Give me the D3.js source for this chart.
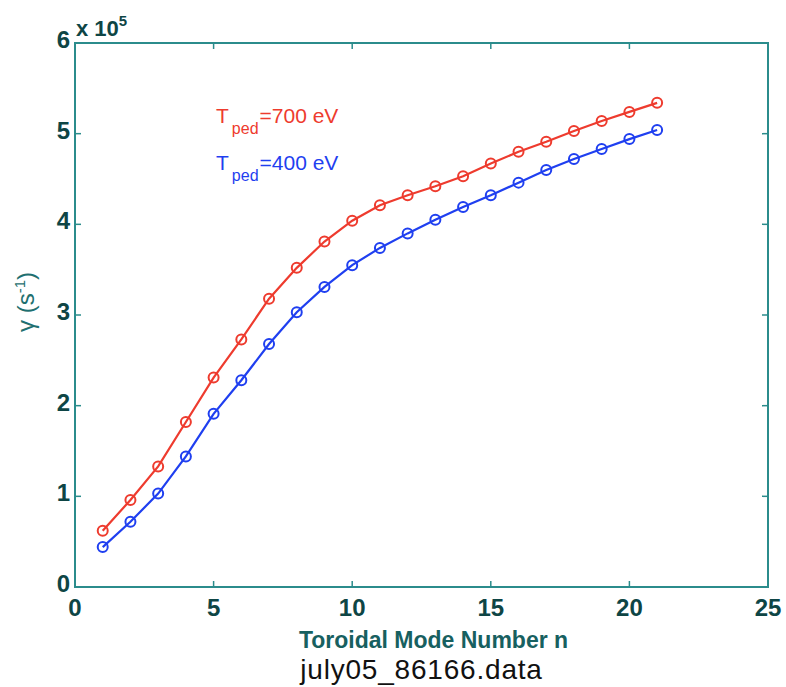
<!DOCTYPE html>
<html>
<head>
<meta charset="utf-8">
<script src="https://cdn.jsdelivr.net/npm/d3@7"></script>
<style>
  body { margin: 0; background: #fff; }
  svg { display: block; }
  .tick-label { font-family: "Liberation Sans Narrow", "Liberation Sans", Arial, sans-serif; font-weight: bold; fill: #0e4545; }
</style>
</head>
<body>
<svg id="chart"></svg>
<script>
const width = 786;
const height = 687;
const margin = {top: 43, right: 18, bottom: 100, left: 75};

// Toroidal mode numbers
const modeNumbers = [1, 2, 3, 4, 5, 6, 7, 8, 9, 10, 11, 12, 13, 14, 15, 16, 17, 18, 19, 20, 21];

// growth rate in units of 1e5 s^-1
const gamma700 = [0.62, 0.96, 1.33, 1.82, 2.31, 2.73, 3.18, 3.52, 3.81, 4.04, 4.21, 4.32, 4.42, 4.53, 4.67, 4.80, 4.91, 5.03, 5.14, 5.24, 5.34];
const gamma400 = [0.44, 0.72, 1.03, 1.44, 1.91, 2.28, 2.68, 3.03, 3.31, 3.55, 3.74, 3.90, 4.05, 4.19, 4.32, 4.46, 4.60, 4.72, 4.83, 4.94, 5.04];

const xTicks = [0, 5, 10, 15, 20, 25];
const yTicks = [0, 1, 2, 3, 4, 5, 6];

const series = [
    {label: "=700 eV", values: gamma700, color: "#ee3b2e", legendY: 123},
    {label: "=400 eV", values: gamma400, color: "#1f3ff0", legendY: 170}
];

const axisColor = "#2b8c8c";

const svg = d3.select("#chart")
    .attr("width", width)
    .attr("height", height);

const innerW = width - margin.left - margin.right;
const innerH = height - margin.top - margin.bottom;

const x = d3.scaleLinear().domain([0, 25]).range([0, innerW]);
const y = d3.scaleLinear().domain([0, 6]).range([innerH, 0]);

const g = svg.append("g")
    .attr("transform", `translate(${margin.left},${margin.top})`);

// box
g.append("rect")
    .attr("width", innerW)
    .attr("height", innerH)
    .attr("fill", "none")
    .attr("stroke", axisColor)
    .attr("stroke-width", 2);

// inward ticks on all four sides
const tickLen = 6;
g.selectAll(".xt-bottom")
    .data(xTicks.slice(1, -1))
    .enter().append("line")
    .attr("x1", d => x(d)).attr("x2", d => x(d))
    .attr("y1", innerH).attr("y2", innerH - tickLen)
    .attr("stroke", axisColor).attr("stroke-width", 1.5);

g.selectAll(".xt-top")
    .data(xTicks.slice(1, -1))
    .enter().append("line")
    .attr("x1", d => x(d)).attr("x2", d => x(d))
    .attr("y1", 0).attr("y2", tickLen)
    .attr("stroke", axisColor).attr("stroke-width", 1.5);

g.selectAll(".yt-left")
    .data(yTicks.slice(1, -1))
    .enter().append("line")
    .attr("x1", 0).attr("x2", tickLen)
    .attr("y1", d => y(d)).attr("y2", d => y(d))
    .attr("stroke", axisColor).attr("stroke-width", 1.5);

g.selectAll(".yt-right")
    .data(yTicks.slice(1, -1))
    .enter().append("line")
    .attr("x1", innerW).attr("x2", innerW - tickLen)
    .attr("y1", d => y(d)).attr("y2", d => y(d))
    .attr("stroke", axisColor).attr("stroke-width", 1.5);

// tick labels
g.selectAll(".xlab")
    .data(xTicks)
    .enter().append("text")
    .attr("class", "tick-label")
    .attr("x", d => x(d))
    .attr("y", innerH + 29)
    .attr("text-anchor", "middle")
    .style("font-size", "24px")
    .text(d => d);

g.selectAll(".ylab")
    .data(yTicks)
    .enter().append("text")
    .attr("class", "tick-label")
    .attr("x", -5)
    .attr("y", d => y(d) + 5)
    .attr("text-anchor", "end")
    .style("font-size", "24px")
    .text(d => d);

// exponent
const expo = g.append("text")
    .attr("class", "tick-label")
    .attr("x", 1)
    .attr("y", -7)
    .style("font-size", "22px");
expo.append("tspan").text("x 10");
expo.append("tspan").attr("dy", -10).style("font-size", "15px").text("5");

// lines and markers
const line = d3.line()
    .x((d, i) => x(modeNumbers[i]))
    .y(d => y(d));

series.forEach(s => {
    g.append("path")
        .datum(s.values)
        .attr("fill", "none")
        .attr("stroke", s.color)
        .attr("stroke-width", 2.2)
        .attr("d", line);

    g.selectAll(null)
        .data(s.values)
        .enter().append("circle")
        .attr("cx", (d, i) => x(modeNumbers[i]))
        .attr("cy", d => y(d))
        .attr("r", 5)
        .attr("fill", "none")
        .attr("stroke", s.color)
        .attr("stroke-width", 2);

    // legend text
    const t = svg.append("text")
        .attr("x", 216)
        .attr("y", s.legendY)
        .attr("fill", s.color)
        .style("font-family", "\"Liberation Sans\", Arial, sans-serif")
        .style("font-size", "21px");
    t.append("tspan").text("T");
    t.append("tspan").attr("dx", 3).attr("dy", 11).style("font-size", "16px").text("ped");
    t.append("tspan").attr("dx", 1).attr("dy", -11).text(s.label);
});

// y axis label
svg.append("text")
    .attr("transform", "translate(34,302) rotate(-90)")
    .attr("text-anchor", "middle")
    .attr("fill", "#1f7070")
    .style("font-family", "\"Liberation Sans\", Arial, sans-serif")
    .style("font-size", "24px")
    .html("γ (s<tspan dy='-9' font-size='15px'>-1</tspan><tspan dy='9'>)</tspan>");

// x axis label
svg.append("text")
    .attr("x", margin.left + innerW / 2 + 12)
    .attr("y", 648)
    .attr("text-anchor", "middle")
    .attr("fill", "#176060")
    .style("font-family", "\"Liberation Sans Narrow\", \"Liberation Sans\", Arial, sans-serif")
    .style("font-weight", "bold")
    .style("font-size", "23px")
    .text("Toroidal Mode Number n");

// file name caption
svg.append("text")
    .attr("x", margin.left + innerW / 2)
    .attr("y", 679)
    .attr("text-anchor", "middle")
    .attr("fill", "#111")
    .style("font-family", "\"Liberation Sans\", Arial, sans-serif")
    .style("font-size", "28px")
    .style("letter-spacing", "0.8px")
    .text("july05_86166.data");
</script>
</body>
</html>
